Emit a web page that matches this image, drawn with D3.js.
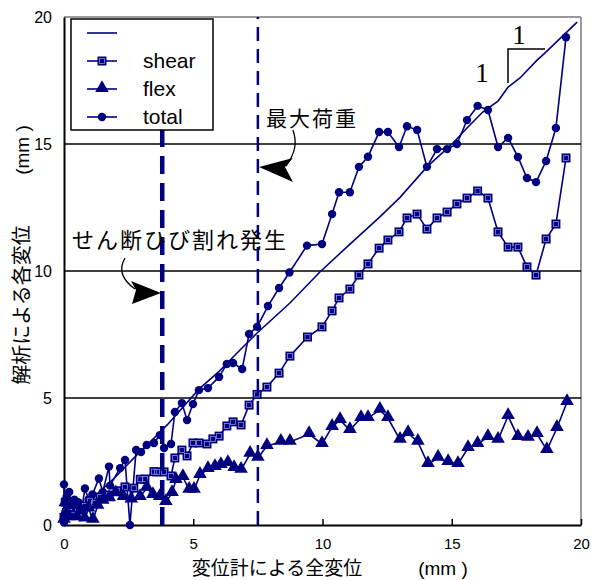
<!DOCTYPE html>
<html>
<head>
<meta charset="utf-8">
<script src="https://cdn.jsdelivr.net/npm/d3@7"></script>
<style>
  body { margin: 0; background: #fff; }
  svg text { font-family: "Liberation Sans", Arial, sans-serif; }
  svg text.jp { font-family: "Noto Sans CJK JP", sans-serif; }
  svg text.serif { font-family: "Liberation Serif", "Times New Roman", serif; }
</style>
</head>
<body>
<svg id="chart" width="603" height="580"></svg>
<script>
// measured displacement (x) vs analysed displacement (y), mm
const measured = [[0,0.1],[0.5,0.45],[1,0.95],[2,1.9],[3,2.95],[3.33,3.27],[4,3.95],[5.22,5.35],[6,6.05],[6.81,6.89],[7.47,7.56],[8.74,8.74],[9.9,9.96],[11,11.0],[12.22,12.13],[13,12.9],[14.04,14.1],[14.55,14.57],[15.05,15.04],[15.59,15.63],[16.2,16.26],[16.8,16.7],[17.18,17.24],[17.64,17.6],[18.3,18.3],[18.6,18.58],[19.85,19.8]]

const shear = [[0,0.3],[0.05,0.9],[0.1,0.5],[0.2,0.7],[0.3,0.4],[0.54,0.59],[0.8,0.75],[1.0,0.95],[1.16,0.87],[1.4,1.1],[1.74,1.18],[2.05,1.35],[2.36,1.5],[2.7,1.45],[2.95,1.8],[3.13,1.81],[3.48,2.1],[3.6,2.09],[3.87,2.09],[4.14,1.93],[4.29,2.64],[4.56,2.95],[4.76,2.72],[4.99,3.23],[5.22,3.23],[5.53,3.19],[5.76,3.39],[6.0,3.5],[6.3,3.9],[6.54,4.06],[6.85,3.94],[7.16,4.72],[7.47,5.14],[7.85,5.43],[8.32,5.98],[8.74,6.65],[9.42,7.4],[9.98,7.8],[10.37,8.43],[10.64,8.94],[11.06,9.29],[11.41,9.84],[11.76,10.28],[12.19,10.9],[12.53,11.22],[12.96,11.54],[13.27,12.09],[13.66,12.24],[14.04,11.65],[14.43,12.09],[14.82,12.32],[15.2,12.64],[15.59,12.87],[16.0,13.15],[16.4,12.87],[16.79,11.54],[17.18,10.94],[17.56,10.94],[17.91,10.16],[18.26,9.84],[18.65,11.26],[19.03,11.85],[19.42,14.45]]

const flex = [[0,0.2],[0.05,0.85],[0.1,0.4],[0.2,0.3],[0.35,0.75],[0.5,0.3],[0.65,0.55],[0.8,0.25],[0.95,0.65],[1.12,0.2],[1.3,0.75],[1.5,0.95],[1.75,1.05],[2.0,1.25],[2.3,1.1],[2.6,1.0],[2.94,1.1],[3.2,1.46],[3.44,1.18],[3.7,1.1],[3.94,0.9],[4.18,1.26],[4.33,1.77],[4.6,1.89],[4.84,1.38],[5.03,1.38],[5.26,1.97],[5.57,2.2],[5.84,2.28],[6.07,2.36],[6.34,2.44],[6.58,2.24],[6.85,2.17],[7.2,2.8],[7.5,2.64],[7.85,3.11],[8.39,3.27],[8.74,3.27],[9.48,3.58],[9.98,3.19],[10.37,3.86],[10.68,4.13],[11.06,3.74],[11.49,4.21],[11.76,4.21],[12.22,4.53],[12.53,4.21],[13.0,3.35],[13.31,3.62],[13.69,3.27],[14.08,2.4],[14.47,2.64],[14.86,2.48],[15.24,2.4],[15.63,3.03],[16.0,3.19],[16.4,3.46],[16.79,3.35],[17.18,4.29],[17.56,3.46],[17.95,3.43],[18.3,3.58],[18.68,2.95],[19.07,3.82],[19.46,4.84]]

const total = [[0,0.1],[0,1.6],[0.05,0.5],[0.1,1.1],[0.2,1.3],[0.3,0.6],[0.4,1.0],[0.55,0.9],[0.7,0.7],[0.81,1.44],[0.95,1.0],[1.1,1.2],[1.35,1.83],[1.5,1.3],[1.74,2.3],[1.78,1.55],[2.17,2.24],[2.36,2.56],[2.55,0],[2.79,2.95],[2.98,2.87],[3.2,3.15],[3.48,3.23],[3.71,3.54],[3.87,3.03],[4.14,3.19],[4.29,4.45],[4.56,4.8],[4.76,4.13],[4.99,4.76],[5.22,5.31],[5.57,5.39],[6.0,5.83],[6.3,6.34],[6.54,6.38],[6.89,6.14],[7.16,7.52],[7.47,7.8],[7.89,8.62],[8.32,9.33],[8.72,9.94],[9.4,11.0],[9.98,11.06],[10.37,12.24],[10.64,13.1],[11.06,13.1],[11.41,14.1],[11.76,14.5],[12.19,15.47],[12.53,15.47],[12.96,14.88],[13.27,15.7],[13.66,15.55],[14.04,14.1],[14.43,14.8],[14.82,14.8],[15.2,15.0],[15.59,15.94],[16.0,16.5],[16.4,16.34],[16.79,14.88],[17.18,15.24],[17.56,14.49],[17.91,13.66],[18.26,13.5],[18.65,14.33],[19.03,15.63],[19.42,19.2]]

const xTicks = [0, 5, 10, 15, 20]
const yTicks = [0, 5, 10, 15, 20]
const gridValues = [5, 10, 15]
const crackX = 3.8   // せん断ひび割れ発生
const peakX = 7.5    // 最大荷重
const legendNames = ['', 'shear', 'flex', 'total']

const navy = '#000080'
const svg = d3.select('#chart')

const x = d3.scaleLinear().domain([0, 20]).range([64, 581])
const y = d3.scaleLinear().domain([0, 20]).range([525, 17])

// frame
svg.append('line').attr('x1', x(0)).attr('x2', x(20)).attr('y1', y(20)).attr('y2', y(20))
  .attr('stroke', '#9a9a9a').attr('stroke-width', 2)
svg.append('line').attr('x1', x(20)).attr('x2', x(20)).attr('y1', y(20)).attr('y2', y(0))
  .attr('stroke', '#9a9a9a').attr('stroke-width', 2)

svg.append('g').selectAll('line').data(gridValues).enter().append('line')
  .attr('x1', x(0)).attr('x2', x(20))
  .attr('y1', d => y(d)).attr('y2', d => y(d))
  .attr('stroke', '#000').attr('stroke-width', 1.5)

const xAxis = svg.append('g')
  .attr('transform', `translate(0,${y(0)})`)
  .call(d3.axisBottom(x).tickValues(xTicks).tickSizeInner(-6).tickSizeOuter(0).tickPadding(13))
xAxis.select('.domain').attr('stroke-width', 2)
xAxis.selectAll('.tick line').attr('stroke-width', 1.5)
xAxis.selectAll('text').attr('font-size', 15).attr('fill', '#000')

const yAxis = svg.append('g')
  .attr('transform', `translate(${x(0)},0)`)
  .call(d3.axisLeft(y).tickValues(yTicks).tickSize(0).tickPadding(12))
yAxis.select('.domain').attr('stroke-width', 2)
yAxis.selectAll('text').attr('font-size', 16).attr('fill', '#000')

// axis titles
svg.append('text').attr('class', 'jp').attr('x', 277).attr('y', 575)
  .attr('text-anchor', 'middle').attr('font-size', 19).text('変位計による全変位')
svg.append('text').attr('x', 443).attr('y', 575)
  .attr('text-anchor', 'middle').attr('font-size', 19).text('(mm )')
svg.append('text').attr('class', 'jp')
  .attr('transform', 'translate(29,305) rotate(-90)')
  .attr('text-anchor', 'middle').attr('font-size', 20).text('解析による各変位')
svg.append('text')
  .attr('transform', 'translate(29,150) rotate(-90)')
  .attr('text-anchor', 'middle').attr('font-size', 19).text('(mm )')

// series
const line = d3.line().x(d => x(d[0])).y(d => y(d[1]))
const plot = svg.append('g')

plot.append('path').datum(measured).attr('d', line)
  .attr('fill', 'none').attr('stroke', navy).attr('stroke-width', 1.6)

function drawMarkers(g, data, kind) {
  const sel = g.selectAll('.m' + kind).data(data).enter()
  if (kind === 'circle') {
    sel.append('circle').attr('cx', d => x(d[0])).attr('cy', d => y(d[1])).attr('r', 4.2).attr('fill', navy)
  } else if (kind === 'square') {
    sel.append('rect').attr('x', d => x(d[0]) - 4.5).attr('y', d => y(d[1]) - 4.5)
      .attr('width', 9).attr('height', 9).attr('fill', navy)
    sel.append('rect').attr('x', d => x(d[0]) - 2.5).attr('y', d => y(d[1]) - 2.5)
      .attr('width', 5).attr('height', 5).attr('fill', 'none').attr('stroke', '#8a8ad0').attr('stroke-width', 0.8)
  } else {
    sel.append('path').attr('d', d3.symbol(d3.symbolTriangle, 80))
      .attr('transform', d => `translate(${x(d[0])},${y(d[1]) - 1})`).attr('fill', navy)
  }
}

const series = [
  { data: total, kind: 'circle' },
  { data: shear, kind: 'square' },
  { data: flex, kind: 'triangle' }
]
series.forEach(s => {
  plot.append('path').datum(s.data).attr('d', line)
    .attr('fill', 'none').attr('stroke', navy).attr('stroke-width', 1.6)
})
series.forEach(s => drawMarkers(plot.append('g'), s.data, s.kind))

// event lines
svg.append('line').attr('x1', x(crackX)).attr('x2', x(crackX)).attr('y1', y(0)).attr('y2', y(20))
  .attr('stroke', navy).attr('stroke-width', 4.5).attr('stroke-dasharray', '18,9')
svg.append('line').attr('x1', x(peakX)).attr('x2', x(peakX)).attr('y1', y(0)).attr('y2', y(20))
  .attr('stroke', navy).attr('stroke-width', 2.5).attr('stroke-dasharray', '14,8')

// legend
const legend = svg.append('g')
legend.append('rect').attr('x', 71).attr('y', 19).attr('width', 142).attr('height', 111)
  .attr('fill', '#fff').attr('stroke', '#000').attr('stroke-width', 1.5)
const kinds = [null, 'square', 'triangle', 'circle']
legendNames.forEach((name, i) => {
  const ly = 33 + i * 28
  const row = legend.append('g')
  row.append('line').attr('x1', 87).attr('x2', 117).attr('y1', ly).attr('y2', ly)
    .attr('stroke', navy).attr('stroke-width', 1.6)
  if (kinds[i]) {
    drawMarkers(row, [[x.invert(102), y.invert(ly)]], kinds[i])
  }
  row.append('text').attr('x', 143).attr('y', ly + 7).attr('font-size', 21).text(name)
})

// annotations
svg.append('text').attr('class', 'jp').attr('x', 72).attr('y', 248)
  .attr('font-size', 22).attr('letter-spacing', 2).text('せん断ひび割れ発生')
svg.append('path').attr('d', 'M125,258 C119,268 121,279 135,289')
  .attr('fill', 'none').attr('stroke', '#000').attr('stroke-width', 1.3)
svg.append('path').attr('d', 'M161,293 L131,281 L136,290 L132,304 Z').attr('fill', '#000')

svg.append('text').attr('class', 'jp').attr('x', 266).attr('y', 126)
  .attr('font-size', 21).attr('letter-spacing', 2).text('最大荷重')
svg.append('path').attr('d', 'M293,130 C297,142 296,152 286,166')
  .attr('fill', 'none').attr('stroke', '#000').attr('stroke-width', 1.3)
svg.append('path').attr('d', 'M259,167 L293,158 L285,167 L293,182 Z').attr('fill', '#000')

// slope mark
svg.append('path').attr('d', 'M508,83 L508,49 L545,49')
  .attr('fill', 'none').attr('stroke', '#000').attr('stroke-width', 1.5)
svg.append('text').attr('class', 'serif').attr('x', 519).attr('y', 44).attr('text-anchor', 'middle')
  .attr('font-size', 27).text('1')
svg.append('text').attr('class', 'serif').attr('x', 482).attr('y', 82).attr('text-anchor', 'middle')
  .attr('font-size', 27).text('1')
</script>
</body>
</html>
